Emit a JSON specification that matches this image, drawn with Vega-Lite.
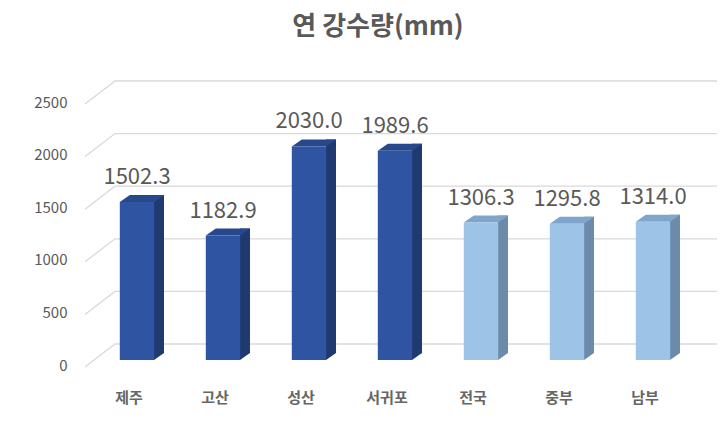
{
  "$schema": "https://vega.github.io/schema/vega-lite/v6.json",
  "autosize": "none",
  "width": 602,
  "height": 263,
  "padding": {"left": 115, "top": 97, "right": 9, "bottom": 62},
  "background": "#ffffff",
  "config": {"view": {"stroke": null}, "font": "Noto Sans CJK KR"},
  "title": {
    "text": "연 강수량(mm)",
    "fontSize": 26,
    "fontWeight": "bold",
    "color": "#595959",
    "font": "Noto Sans CJK KR",
    "frame": "group",
    "anchor": "middle",
    "baseline": "alphabetic",
    "dx": -38,
    "offset": 17
  },
  "datasets": {
    "rain": [
      {"region": "제주", "value": 1502.3, "group": "jeju"},
      {"region": "고산", "value": 1182.9, "group": "jeju"},
      {"region": "성산", "value": 2030.0, "group": "jeju"},
      {"region": "서귀포", "value": 1989.6, "group": "jeju"},
      {"region": "전국", "value": 1306.3, "group": "mainland"},
      {"region": "중부", "value": 1295.8, "group": "mainland"},
      {"region": "남부", "value": 1314.0, "group": "mainland"}
    ],
    "grid": [
      {"value": 0}, {"value": 500}, {"value": 1000},
      {"value": 1500}, {"value": 2000}, {"value": 2500}
    ]
  },
  "layer": [
    {
      "data": {"name": "grid"},
      "mark": {
        "type": "point",
        "shape": "M-52,7 L-22,-16 L580,-16",
        "size": 4,
        "filled": false,
        "stroke": "#d9d9d9",
        "strokeWidth": 1.3,
        "opacity": 1
      },
      "encoding": {
        "x": {"datum": "제주", "type": "nominal"},
        "y": {"field": "value", "type": "quantitative", "title": null}
      }
    },
    {
      "data": {"name": "rain"},
      "mark": {"type": "bar", "width": 10, "xOffset": 22, "x2Offset": 22, "yOffset": -7, "y2Offset": -7},
      "encoding": {
        "x": {"field": "region", "type": "nominal", "sort": null, "title": null},
        "y": {"field": "value", "type": "quantitative", "title": null},
        "fill": {"condition": {"test": "datum.group === 'jeju'", "value": "#1E3A70"}, "value": "#6C8AAA"}
      }
    },
    {
      "data": {"name": "rain"},
      "mark": {"type": "point", "shape": "M17,0 L27,-7 L17,-7 Z", "size": 4, "filled": true, "opacity": 1},
      "encoding": {
        "x": {"field": "region", "type": "nominal", "sort": null, "title": null},
        "y": {"datum": 0, "type": "quantitative"},
        "fill": {"condition": {"test": "datum.group === 'jeju'", "value": "#1E3A70"}, "value": "#6C8AAA"}
      }
    },
    {
      "data": {"name": "rain"},
      "mark": {"type": "point", "shape": "M-17.2,0 L17.2,0 L27.2,-7 L-7.2,-7 Z", "size": 4, "filled": true, "opacity": 1},
      "encoding": {
        "x": {"field": "region", "type": "nominal", "sort": null, "title": null},
        "y": {"field": "value", "type": "quantitative", "title": null},
        "fill": {"condition": {"test": "datum.group === 'jeju'", "value": "#27498C"}, "value": "#80A5CA"}
      }
    },
    {
      "data": {"name": "rain"},
      "mark": {"type": "bar"},
      "encoding": {
        "x": {
          "field": "region",
          "type": "nominal",
          "sort": null,
          "title": null,
          "scale": {"paddingInner": 0.6, "paddingOuter": 0.3, "align": 0.093},
          "axis": {
            "labelAngle": 0,
            "ticks": false,
            "domain": false,
            "labelFontSize": 15,
            "labelColor": "#666666",
            "labelFont": "Noto Sans CJK KR",
            "labelFontWeight": "bold",
            "labelAlign": "center",
            "labelOffset": -8,
            "labelPadding": 37
          }
        },
        "y": {
          "field": "value",
          "type": "quantitative",
          "title": null,
          "scale": {"domain": [0, 2500], "nice": false},
          "axis": {
            "values": [0, 500, 1000, 1500, 2000, 2500],
            "format": "d",
            "grid": false,
            "ticks": false,
            "domain": false,
            "labelFontSize": 15,
            "labelColor": "#595959",
            "labelFont": "Noto Sans CJK KR",
            "labelPadding": 48,
            "labelOffset": 5
          }
        },
        "fill": {"condition": {"test": "datum.group === 'jeju'", "value": "#2F55A2"}, "value": "#9DC3E6"}
      }
    },
    {
      "data": {"name": "rain"},
      "mark": {"type": "text", "dy": -25, "baseline": "middle", "fontSize": 22, "color": "#595959", "font": "Noto Sans CJK KR"},
      "encoding": {
        "x": {"field": "region", "type": "nominal", "sort": null, "title": null},
        "y": {"field": "value", "type": "quantitative", "title": null},
        "text": {"field": "value", "type": "quantitative", "format": ".1f"}
      }
    }
  ]
}
